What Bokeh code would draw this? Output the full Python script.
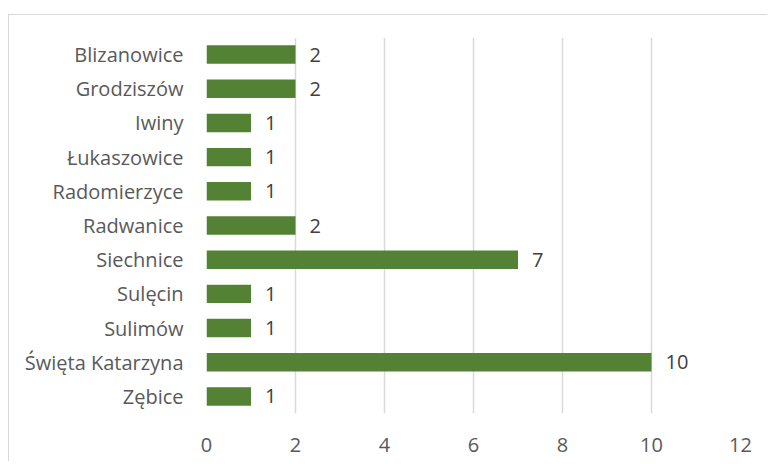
from bokeh.plotting import figure
from bokeh.models import ColumnDataSource, FactorRange, Range1d, FixedTicker
from bokeh.core.properties import value
from bokeh.embed import file_html
from bokeh.resources import INLINE

categories = ["Blizanowice", "Grodziszów", "Iwiny", "Łukaszowice", "Radomierzyce",
              "Radwanice", "Siechnice", "Sulęcin", "Sulimów", "Święta Katarzyna", "Zębice"]
counts = [2, 2, 1, 1, 1, 2, 7, 1, 1, 10, 1]
x_ticks = [0, 2, 4, 6, 8, 10, 12]

FONT = "Open Sans"
src = ColumnDataSource(data=dict(cat=categories, val=counts, lab=[str(v) for v in counts]))

p = figure(width=759, height=447, output_backend="svg", toolbar_location=None,
           y_range=FactorRange(factors=list(reversed(categories)), range_padding=0),
           x_range=Range1d(0, 12),
           min_border_left=197, min_border_right=28, min_border_top=22, min_border_bottom=49)
p.margin = (14, 0, 0, 8)
p.styles = {"border-top": "1.5px solid #d9d9d9", "border-left": "1.5px solid #d9d9d9"}
p.outline_line_color = None
p.background_fill_color = "white"
p.border_fill_color = "white"

p.hbar(y="cat", right="val", left=0, height=0.54, source=src,
       fill_color="#548235", line_color=None)
p.text(x="val", y="cat", text="lab", source=src, x_offset=14,
       text_align="left", text_baseline="middle", text_color="#404040",
       text_font=value(FONT), text_font_size="20px")

p.xaxis.ticker = FixedTicker(ticks=x_ticks)
for ax in (p.xaxis[0], p.yaxis[0]):
    ax.axis_line_color = None
    ax.major_tick_line_color = None
    ax.minor_tick_line_color = None
    ax.major_tick_out = 0
    ax.major_tick_in = 0
    ax.minor_tick_out = 0
    ax.major_label_text_color = "#595959"
    ax.major_label_text_font = FONT
    ax.major_label_text_font_size = "20px"
p.xaxis.major_label_standoff = 24
p.yaxis.major_label_standoff = 23

p.xgrid.grid_line_color = "#d9d9d9"
p.xgrid.grid_line_width = 1.5
p.ygrid.grid_line_color = None

open("out.html", "w").write(file_html(p, INLINE))
